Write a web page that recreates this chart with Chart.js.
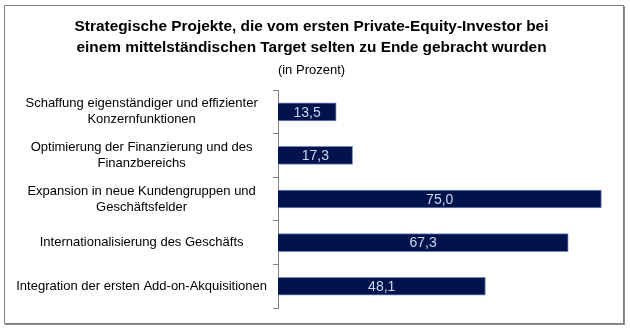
<!DOCTYPE html>
<html>
<head>
<meta charset="utf-8">
<script src="https://cdn.jsdelivr.net/npm/chart.js@4/dist/chart.umd.min.js"></script>
<style>
  html, body { margin: 0; padding: 0; background: #ffffff; }
  #wrap { position: relative; width: 630px; height: 330px; }
  #frame { position: absolute; left: 4px; top: 5px; width: 618px; height: 317px;
           border: 1px solid #7f7f7f; box-shadow: 1px 1px 0 #8c8c8c; pointer-events: none; }
  canvas { position: absolute; left: 0; top: 0; }
</style>
</head>
<body>
<div id="wrap">
  <canvas id="c" width="630" height="330"></canvas>
  <div id="frame"></div>
</div>
<script>
const titleLines = [
  "Strategische Projekte, die vom ersten Private-Equity-Investor bei",
  "einem mittelständischen Target selten zu Ende gebracht wurden"
];
const subtitleText = "(in Prozent)";
const categories = [
  ["Schaffung eigenständiger und effizienter", "Konzernfunktionen"],
  ["Optimierung der Finanzierung und des", "Finanzbereichs"],
  ["Expansion in neue Kundengruppen und", "Geschäftsfelder"],
  "Internationalisierung des Geschäfts",
  "Integration der ersten Add-on-Akquisitionen"
];
const values = [13.5, 17.3, 75.0, 67.3, 48.1];
const axisMax = 80;

const FONT = "'Liberation Sans Narrow', 'Arial Narrow', 'Liberation Sans', Arial, sans-serif";

const valueLabels = {
  id: 'valueLabels',
  afterDatasetsDraw(chart) {
    const ctx = chart.ctx;
    const meta = chart.getDatasetMeta(0);
    ctx.save();
    ctx.font = "14px " + FONT;
    ctx.fillStyle = "#c6d9f1";
    ctx.textAlign = "center";
    ctx.textBaseline = "middle";
    meta.data.forEach((bar, i) => {
      const v = chart.data.datasets[0].data[i];
      const x = (bar.x + bar.base) / 2;
      ctx.fillText(v.toFixed(1).replace('.', ','), x, bar.y + 1);
    });
    ctx.restore();
  }
};

new Chart(document.getElementById('c'), {
  type: 'bar',
  data: {
    labels: categories,
    datasets: [{
      data: values,
      backgroundColor: '#00134c',
      borderColor: '#6f8cc0',
      borderWidth: 1,
      borderSkipped: 'left',
      barThickness: 18
    }]
  },
  options: {
    indexAxis: 'y',
    responsive: false,
    animation: false,
    layout: { padding: { left: 0, right: 7, top: 16.5, bottom: 18 } },
    plugins: {
      legend: { display: false },
      tooltip: { enabled: false },
      title: {
        display: true,
        text: titleLines,
        color: '#000000',
        font: { family: FONT, size: 15.4, weight: 'bold', lineHeight: '21px' },
        padding: { top: 0, bottom: 4 }
      },
      subtitle: {
        display: true,
        text: subtitleText,
        color: '#000000',
        font: { family: FONT, size: 13, lineHeight: '15px' },
        padding: { top: 0, bottom: 12.5 }
      }
    },
    scales: {
      x: {
        display: false,
        min: 0,
        max: axisMax
      },
      y: {
        afterFit(scale) { scale.width = 278; },
        border: { display: true, color: '#808080', width: 1 },
        grid: { display: true, drawOnChartArea: false, drawTicks: true, tickLength: 5, color: '#808080', offset: true },
        ticks: {
          color: '#000000',
          crossAlign: 'center',
          padding: 6,
          autoSkip: false,
          font: { family: FONT, size: 13, lineHeight: 1.23 }
        }
      }
    }
  },
  plugins: [valueLabels]
});
</script>
</body>
</html>
